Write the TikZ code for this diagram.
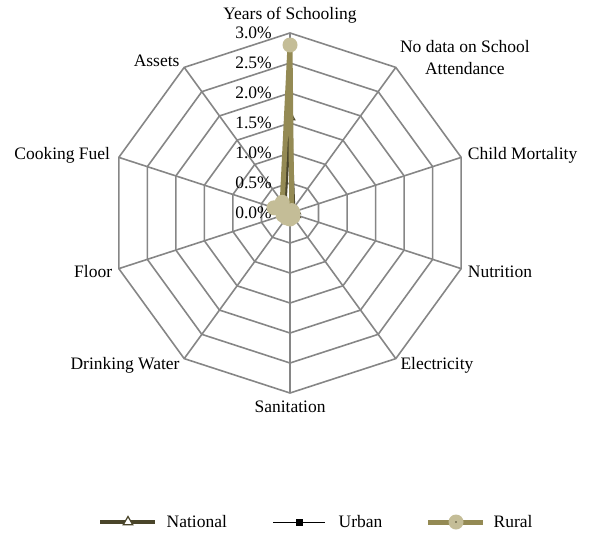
\documentclass[tikz,border=0pt]{standalone}
\usepackage{fontspec}
\setmainfont{Liberation Serif}
\usetikzlibrary{positioning,shapes.geometric}

\definecolor{gridgray}{RGB}{134,134,134}
\definecolor{natcol}{RGB}{74,69,42}
\definecolor{ruralcol}{RGB}{148,138,84}
\definecolor{ruralfill}{RGB}{196,189,151}

\tikzset{
  lab/.style={font=\fontsize{17.5}{22}\selectfont,inner sep=1.5pt,align=center},
  ticklab/.style={font=\fontsize{17.5}{20}\selectfont,inner sep=0pt,anchor=east},
  gridline/.style={draw=gridgray,line width=1.6pt,line join=miter},
  natline/.style={draw=natcol,line width=3.5pt,line join=round},
  urbline/.style={draw=black,line width=0.8pt},
  rurline/.style={draw=ruralcol,line width=5pt,line join=round},
  natmark/.style={regular polygon,regular polygon sides=3,draw=natcol,fill=white,line width=1.2pt,minimum size=11pt,inner sep=0pt},
  urbmark/.style={rectangle,fill=black,minimum size=7pt,inner sep=0pt},
  rurmark/.style={circle,fill=ruralfill,minimum size=15pt,inner sep=0pt}
}

\begin{document}
\begin{tikzpicture}[x=1pt,y=1pt]
\useasboundingbox (0,0) rectangle (591,-535);

\begin{scope}[shift={(290,-213)}]
\coordinate (c) at (0,0);

% ecken der achsen
\foreach \a [count=\i] in {90,54,18,-18,-54,-90,-126,-162,-198,-234}
  \coordinate (v\i) at (\a:180);

% netz
\foreach \r in {30,60,...,180}
  \draw[gridline] (90:\r) -- (54:\r) -- (18:\r) -- (-18:\r) -- (-54:\r) -- (-90:\r)
    -- (-126:\r) -- (-162:\r) -- (-198:\r) -- (-234:\r) -- cycle;
\foreach \i in {1,...,10}
  \draw[gridline] (c) -- (v\i);

% skala
\foreach \p [count=\k from 0] in {0.0,0.5,1.0,1.5,2.0,2.5,3.0}
  \node[ticklab] (t\k) at (-18,\k*30) {\p\%};

% werte in prozent, 1% = 60
\foreach \v [count=\i, evaluate=\i as \a using 126-36*\i] in {1.6,0.1,0.1,0.1,0.1,0.1,0.1,0.12,0.15,0.15}
  \coordinate (n\i) at (\a:\v*60);
\foreach \v [count=\i, evaluate=\i as \a using 126-36*\i] in {0.03,0.02,0.02,0.02,0.02,0.02,0.02,0.03,0.05,0.05}
  \coordinate (u\i) at (\a:\v*60);
\foreach \v [count=\i, evaluate=\i as \a using 126-36*\i] in {2.8,0.05,0.05,0.05,0.08,0.1,0.1,0.12,0.28,0.22}
  \coordinate (r\i) at (\a:\v*60);

% national
\draw[natline] (n1) -- (n2) -- (n3) -- (n4) -- (n5) -- (n6) -- (n7) -- (n8) -- (n9) -- (n10) -- cycle;
\foreach \i in {1,...,10}
  \node[natmark] (nm\i) at (n\i) {};

% urban
\draw[urbline] (u1) -- (u2) -- (u3) -- (u4) -- (u5) -- (u6) -- (u7) -- (u8) -- (u9) -- (u10) -- cycle;
\foreach \i in {1,...,10}
  \node[urbmark] (um\i) at (u\i) {};

% rural
\draw[rurline] (r1) -- (r2) -- (r3) -- (r4) -- (r5) -- (r6) -- (r7) -- (r8) -- (r9) -- (r10) -- cycle;
\foreach \i in {1,...,10}
  \node[rurmark] (rm\i) at (r\i) {};
\end{scope}

% achsenbeschriftung
\node[lab,above=8pt of v1] (years) {Years of Schooling};
\node[lab,anchor=south west,inner sep=0pt] (school) at ([xshift=4pt,yshift=-7pt]v2) {No data on School\\Attendance};
\node[lab,anchor=west] (child) at ([xshift=5pt,yshift=2pt]v3) {Child Mortality};
\node[lab,anchor=west] (nutri) at ([xshift=5pt,yshift=-3pt]v4) {Nutrition};
\node[lab,anchor=west] (elec) at ([xshift=3pt,yshift=-7pt]v5) {Electricity};
\node[lab,below=6pt of v6] (sani) {Sanitation};
\node[lab,anchor=east] (drink) at ([xshift=-3pt,yshift=-7pt]v7) {Drinking Water};
\node[lab,anchor=east] (floor) at ([xshift=-5pt,yshift=-3pt]v8) {Floor};
\node[lab,anchor=east] (cook) at ([xshift=-7pt,yshift=2pt]v9) {Cooking Fuel};
\node[lab,anchor=east] (assets) at ([xshift=-3pt,yshift=7pt]v10) {Assets};

% legende
\coordinate (na) at (100,-522);
\coordinate (nb) at (155,-522);
\draw[natline] (na) -- (nb);
\node[natmark] (nleg) at (128,-522) {};
\node[lab,anchor=west] (ntext) at (165,-522) {National};

\coordinate (ua) at (273,-522);
\coordinate (ub) at (325,-522);
\draw[urbline] (ua) -- (ub);
\node[urbmark] (uleg) at (299,-522) {};
\node[lab,anchor=west] (utext) at (337,-522) {Urban};

\coordinate (ra) at (428,-522);
\coordinate (rb) at (483,-522);
\draw[rurline] (ra) -- (rb);
\node[rurmark] (rleg) at (456,-522) {};
\fill[natcol] (rleg) circle (0.8pt);
\node[lab,anchor=west] (rtext) at (492,-522) {Rural};

\end{tikzpicture}
\end{document}
